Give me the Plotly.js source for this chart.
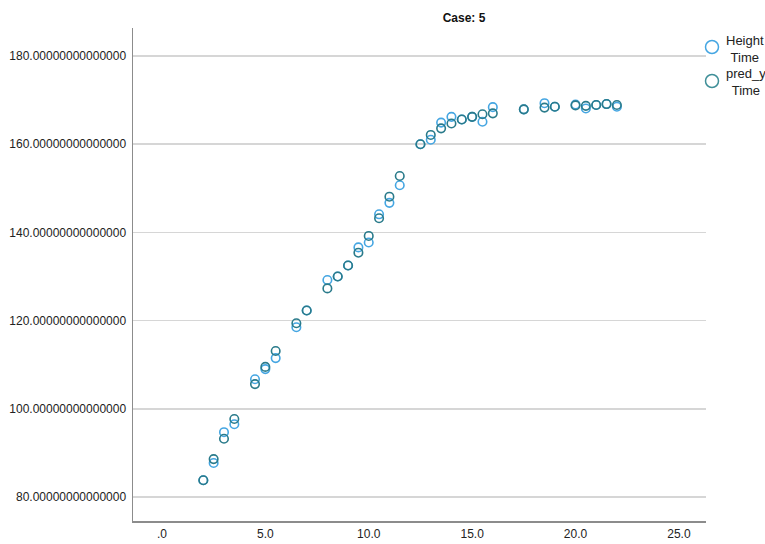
<!DOCTYPE html>
<html>
<head>
<meta charset="utf-8">
<script src="https://cdn.plot.ly/plotly-3.0.1.min.js"></script>
<style>html,body{margin:0;padding:0;background:#fff;}#chart{width:765px;height:544px;}</style>
</head>
<body>
<div id="chart"></div>
<script>
var time = [2,2.5,3,3.5,4.5,5,5.5,6.5,7,8,8.5,9,9.5,10,10.5,11,11.5,12.5,13,13.5,14,14.5,15,15.5,16,17.5,18.5,19,20,20.5,21,21.5,22];
var height = [83.8,87.7,94.7,96.5,106.7,109.0,111.5,118.5,122.3,129.2,130.0,132.5,136.6,137.7,144.1,146.7,150.7,160.0,161.0,164.9,166.2,165.6,166.2,165.1,168.4,167.9,169.3,168.5,169.0,168.1,168.9,169.1,168.5];
var predY = [83.8,88.6,93.2,97.7,105.6,109.5,113.1,119.4,122.3,127.3,130.0,132.5,135.4,139.2,143.2,148.1,152.8,160.0,162.1,163.6,164.7,165.6,166.2,166.8,167.0,167.9,168.3,168.5,168.8,168.7,168.9,169.1,168.9];

var xTickVals = [0,5,10,15,20,25];
var xTickText = [".0","5.0","10.0","15.0","20.0","25.0"];
var yTickVals = [80,100,120,140,160,180];
var yTickText = ["80.00000000000000","100.00000000000000","120.00000000000000","140.00000000000000","160.00000000000000","180.00000000000000"];

var seriesNames = ["Height<br>Time","pred_y<br>Time"];
var heightColor = "#45a6e2";
var predColor = "#2a7b8b";

var traces = [
  {x: time, y: height, type: "scatter", mode: "markers", showlegend: false,
   marker: {symbol: "circle-open", size: 8.5, color: heightColor, line: {width: 1.6, color: heightColor}}},
  {x: time, y: predY, type: "scatter", mode: "markers", showlegend: false,
   marker: {symbol: "circle-open", size: 8.5, color: predColor, line: {width: 1.6, color: predColor}}}
];

var font = "Arial, 'Liberation Sans', sans-serif";
var legX = (724-133)/573;
var layout = {
  width: 765, height: 544,
  margin: {l: 133, r: 59, t: 28, b: 23, autoexpand: false},
  paper_bgcolor: "#fff", plot_bgcolor: "#fff",
  font: {family: font, size: 12, color: "#222"},
  title: {text: "<b>Case: 5</b>", x: 464/765, xref: "container", xanchor: "center",
          y: 1 - 18/544, yref: "container", yanchor: "middle",
          font: {family: font, size: 12, color: "#111"}},
  showlegend: false,
  xaxis: {range: [-1.40, 26.31], tickvals: xTickVals, ticktext: xTickText, showgrid: false,
          zeroline: false, showline: true, linecolor: "#8c8c8c", linewidth: 1.5, ticks: "",
          ticklabelstandoff: 1, tickfont: {size: 12, color: "#222"}},
  yaxis: {range: [74.56, 186.35], tickvals: yTickVals, ticktext: yTickText, showgrid: true,
          gridcolor: "#d6d6d6", gridwidth: 1.6, zeroline: false, showline: true,
          linecolor: "#8c8c8c", linewidth: 1.5, ticks: "", ticklabelstandoff: 3,
          tickfont: {size: 12, color: "#222"}},
  shapes: [
    {type: "circle", xref: "paper", yref: "paper", xsizemode: "pixel", ysizemode: "pixel",
     xanchor: (712-133)/573, yanchor: 1 - (47-28)/493, x0: -6.5, x1: 6.5, y0: -6.5, y1: 6.5,
     line: {color: heightColor, width: 1.5}},
    {type: "circle", xref: "paper", yref: "paper", xsizemode: "pixel", ysizemode: "pixel",
     xanchor: (712-133)/573, yanchor: 1 - (81-28)/493, x0: -6.5, x1: 6.5, y0: -6.5, y1: 6.5,
     line: {color: "#3f8f98", width: 1.5}}
  ],
  annotations: [
    {text: seriesNames[0], xref: "paper", yref: "paper", x: legX, y: 1 - (49-28)/493,
     xanchor: "left", yanchor: "middle", align: "center", showarrow: false,
     font: {family: font, size: 13, color: "#222"}},
    {text: seriesNames[1], xref: "paper", yref: "paper", x: legX, y: 1 - (82-28)/493,
     xanchor: "left", yanchor: "middle", align: "center", showarrow: false,
     font: {family: font, size: 13, color: "#222"}}
  ]
};

Plotly.newPlot("chart", traces, layout, {displayModeBar: false, staticPlot: true});
</script>
</body>
</html>
